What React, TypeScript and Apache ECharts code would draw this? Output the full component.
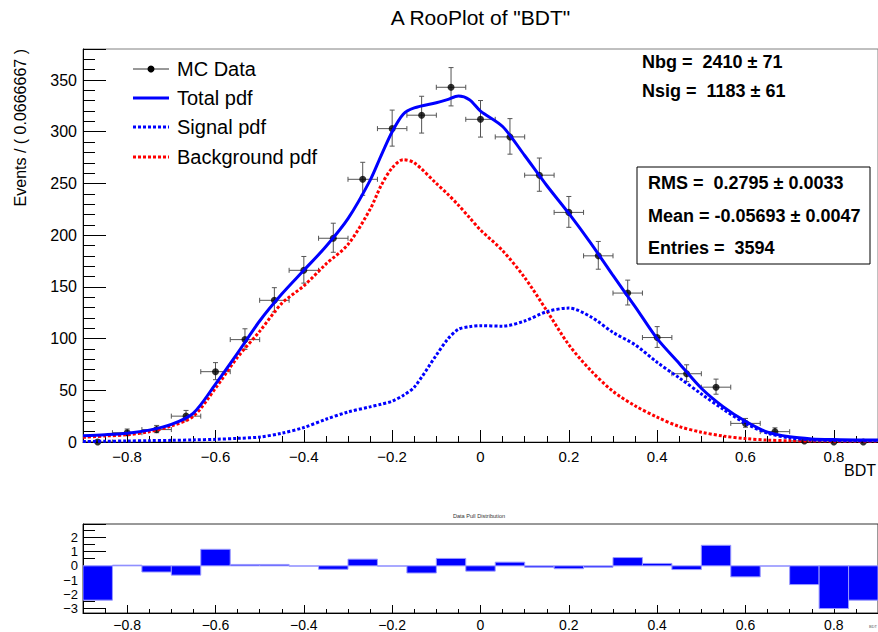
import React, { useEffect, useRef } from 'react';
import * as echarts from 'echarts';

// ---- data ----
const binWidth = 0.0666667;
const binCenters = [
  -0.8667, -0.8, -0.7333, -0.6667, -0.6, -0.5333, -0.4667, -0.4, -0.3333,
  -0.2667, -0.2, -0.1333, -0.0667, 0, 0.0667, 0.1333, 0.2, 0.2667,
  0.3333, 0.4, 0.4667, 0.5333, 0.6, 0.6667, 0.7333, 0.8, 0.8667,
];
const dataCounts = [
  0, 9, 12, 25, 68, 99, 137, 166, 197, 254, 303, 316, 343, 312, 295, 258, 222, 180,
  144, 101, 66, 53, 18, 10, 1, 0, 0,
];
const pullValues = [
  -2.4, 0.05, -0.43, -0.65, 1.16, 0.1, 0.1, -0.02, -0.24, 0.47, -0.02, -0.5, 0.52, -0.37,
  0.26, -0.1, -0.2, -0.1, 0.58, 0.17, -0.26, 1.44, -0.77, -0.02, -1.31, -2.99, -2.4,
];

const curveX = [
  -0.9, -0.85, -0.8, -0.75, -0.7, -0.65, -0.6, -0.55, -0.5, -0.45, -0.4, -0.35, -0.3, -0.25,
  -0.225, -0.2, -0.175, -0.15, -0.1, -0.075, -0.05, -0.025, 0, 0.05, 0.1, 0.15, 0.2, 0.25,
  0.3, 0.35, 0.4, 0.45, 0.5, 0.55, 0.6, 0.65, 0.7, 0.75, 0.8, 0.85, 0.9,
];
const totalPdf = [
  6, 7, 8.5, 11.5, 17, 28, 56, 86, 117, 143, 166, 189, 216, 253,
  277, 300, 317, 323, 328, 331, 334.5, 331, 320, 305, 277, 248, 221, 192,
  161, 131, 100, 76, 52, 34, 20, 9.5, 5, 3, 2.3, 2, 2,
];
const signalPdf = [
  0.5, 0.7, 1, 1.3, 1.6, 2, 2.6, 3.5, 4.8, 8.5, 14, 22, 29, 34,
  36.5, 39.5, 45, 53, 84, 99, 109, 111.5, 112.5, 112, 117, 126, 129.5, 121,
  106, 94, 77, 62, 46.5, 31.5, 18, 8.5, 4, 2, 1.4, 1.2, 1.1,
];
const backgroundPdf = [
  4.5, 5.8, 7, 10, 15.5, 25, 52, 82, 107, 134, 151, 172, 191, 225,
  248, 265, 273, 270, 250, 240, 229, 217, 205, 185, 159, 127, 94, 69,
  49, 35, 24, 15, 9.5, 5.7, 3.3, 1.8, 1.2, 1, 0.8, 0.7, 0.6,
];

const legendLabels = ['MC Data', 'Total pdf', 'Signal pdf', 'Background pdf'];
const fitLines = ['Nbg =  2410 \u00b1 71', 'Nsig =  1183 \u00b1 61'];
const statLines = ['RMS =  0.2795 \u00b1 0.0033', 'Mean = -0.05693 \u00b1 0.0047', 'Entries =  3594'];

const FONT = '"Liberation Sans", Arial, Helvetica, sans-serif';
const BLUE = '#0000ff';
const RED = '#ff0000';

const fmt = (v: number) => {
  const r = Math.round(v * 10) / 10;
  return String(r).replace('-', '\u2212');
};

export default function App() {
  const ref = useRef<HTMLDivElement>(null);
  useEffect(() => {
    if (!ref.current) return;
    const chart = echarts.init(ref.current, null, { renderer: 'svg' });

    const errData = binCenters.map((c, i) => {
      const n = dataCounts[i];
      const s = Math.sqrt(n + 0.25);
      return [c, n, Math.max(0, s - 0.5), s + 0.5];
    });

    const pts = (ys: number[]) => curveX.map((x, i) => [x, ys[i]]);

    const legendY = [69, 98, 127, 157];

    const option: any = {
      animation: false,
      backgroundColor: '#fff',
      textStyle: { fontFamily: FONT },
      grid: [
        { left: 83, top: 49, width: 795, height: 393, show: true, borderColor: '#808080', borderWidth: 1, containLabel: false },
        { left: 83, top: 524, width: 795, height: 96, show: true, borderColor: '#333', borderWidth: 1, containLabel: false },
      ],
      xAxis: [
        {
          type: 'value', gridIndex: 0, min: -0.9, max: 0.9, splitNumber: 9,
          axisLine: { show: true, onZero: false, lineStyle: { color: '#000', width: 1 } },
          axisTick: { show: true, inside: true, length: 12, lineStyle: { color: '#000' } },
          minorTick: { show: true, splitNumber: 4, length: 6, lineStyle: { color: '#000' } },
          splitLine: { show: false },
          axisLabel: { showMinLabel: false, showMaxLabel: false, fontSize: 15, color: '#000', margin: 7, fontFamily: FONT, formatter: fmt },
        },
        {
          type: 'value', gridIndex: 1, min: -0.9, max: 0.9, splitNumber: 9,
          axisLine: { show: true, onZero: false, lineStyle: { color: '#000', width: 1 } },
          axisTick: { show: true, inside: true, length: 8, lineStyle: { color: '#000' } },
          minorTick: { show: true, splitNumber: 4, length: 4, lineStyle: { color: '#000' } },
          splitLine: { show: false },
          axisLabel: { showMinLabel: false, showMaxLabel: false, fontSize: 14, color: '#000', margin: 5, fontFamily: FONT, formatter: fmt },
        },
      ],
      yAxis: [
        {
          type: 'value', gridIndex: 0, min: 0, max: 380, splitNumber: 8,
          axisLine: { show: true, onZero: false, lineStyle: { color: '#000', width: 1 } },
          axisTick: { show: true, inside: true, length: 23, lineStyle: { color: '#000' } },
          minorTick: { show: true, splitNumber: 5, length: 12, lineStyle: { color: '#000' } },
          splitLine: { show: false },
          axisLabel: { showMaxLabel: false, fontSize: 16, color: '#000', margin: 6, fontFamily: FONT },
        },
        {
          type: 'value', gridIndex: 1, min: -3.3, max: 2.93, splitNumber: 6,
          axisLine: { show: true, onZero: false, lineStyle: { color: '#000', width: 1 } },
          axisTick: { show: true, inside: true, length: 23, lineStyle: { color: '#000' } },
          minorTick: { show: true, splitNumber: 2, length: 12, lineStyle: { color: '#000' } },
          splitLine: { show: false },
          axisLabel: { showMinLabel: false, showMaxLabel: false, fontSize: 13, lineHeight: 13, color: '#000', margin: 5, fontFamily: FONT, formatter: fmt },
        },
      ],
      series: [
        {
          type: 'custom', name: 'errors', xAxisIndex: 0, yAxisIndex: 0, clip: true, z: 2,
          data: errData,
          renderItem: (params: any, api: any) => {
            const x = api.value(0), y = api.value(1), lo = api.value(2), hi = api.value(3);
            const half = binWidth / 2;
            const pL = api.coord([x - half, y]);
            const pR = api.coord([x + half, y]);
            const pT = api.coord([x, y + hi]);
            const pB = api.coord([x, y - lo]);
            const style = { stroke: '#555', lineWidth: 1, fill: null };
            const c = 2.5;
            return {
              type: 'group',
              children: [
                { type: 'line', shape: { x1: pL[0], y1: pL[1], x2: pR[0], y2: pR[1] }, style },
                { type: 'line', shape: { x1: pT[0], y1: pT[1], x2: pB[0], y2: pB[1] }, style },
                { type: 'line', shape: { x1: pL[0], y1: pL[1] - c, x2: pL[0], y2: pL[1] + c }, style },
                { type: 'line', shape: { x1: pR[0], y1: pR[1] - c, x2: pR[0], y2: pR[1] + c }, style },
                { type: 'line', shape: { x1: pT[0] - c, y1: pT[1], x2: pT[0] + c, y2: pT[1] }, style },
                { type: 'line', shape: { x1: pB[0] - c, y1: pB[1], x2: pB[0] + c, y2: pB[1] }, style },
              ],
            };
          },
        },
        {
          type: 'scatter', name: 'MC Data', xAxisIndex: 0, yAxisIndex: 0, z: 3,
          symbol: 'circle', symbolSize: 7, itemStyle: { color: '#000' },
          data: binCenters.map((c, i) => [c, dataCounts[i]]),
        },
        {
          type: 'line', name: 'Background pdf', xAxisIndex: 0, yAxisIndex: 0, z: 4,
          data: pts(backgroundPdf), showSymbol: false, symbol: 'none', smooth: 0.3,
          lineStyle: { color: RED, width: 3, type: [3, 2] },
        },
        {
          type: 'line', name: 'Signal pdf', xAxisIndex: 0, yAxisIndex: 0, z: 4,
          data: pts(signalPdf), showSymbol: false, symbol: 'none', smooth: 0.3,
          lineStyle: { color: BLUE, width: 3, type: [3, 2] },
        },
        {
          type: 'line', name: 'Total pdf', xAxisIndex: 0, yAxisIndex: 0, z: 5,
          data: pts(totalPdf), showSymbol: false, symbol: 'none', smooth: 0.3,
          lineStyle: { color: BLUE, width: 3 },
        },
        {
          type: 'custom', name: 'pull', xAxisIndex: 1, yAxisIndex: 1, clip: true,
          data: binCenters.map((c, i) => [c, pullValues[i]]),
          renderItem: (params: any, api: any) => {
            const c = api.value(0), v = api.value(1);
            const half = binWidth / 2;
            const p0 = api.coord([c - half, 0]);
            const p1 = api.coord([c + half, v]);
            const x = p0[0], w = p1[0] - p0[0];
            const y = Math.min(p0[1], p1[1]);
            const h = Math.abs(p1[1] - p0[1]);
            return {
              type: 'rect',
              shape: { x, y, width: w, height: h },
              style: { fill: BLUE, stroke: '#9a9aff', lineWidth: 1 },
            };
          },
        },
      ],
      graphic: [
        { type: 'text', x: 480.5, y: 17, style: { text: 'A RooPlot of "BDT"', font: `21px ${FONT}`, fill: '#000', align: 'center', verticalAlign: 'middle' } },
        { type: 'text', x: 20, y: 49, rotation: Math.PI / 2, style: { text: 'Events / ( 0.0666667 )', font: `16px ${FONT}`, fill: '#000', align: 'right', verticalAlign: 'middle' } },
        { type: 'text', x: 876, y: 470, style: { text: 'BDT', font: `16px ${FONT}`, fill: '#000', align: 'right', verticalAlign: 'middle' } },
        // legend
        { type: 'line', shape: { x1: 133, y1: legendY[0], x2: 169, y2: legendY[0] }, style: { stroke: '#333', lineWidth: 1 } },
        { type: 'circle', shape: { cx: 151, cy: legendY[0], r: 3.5 }, style: { fill: '#000' } },
        { type: 'line', shape: { x1: 133, y1: legendY[1], x2: 169, y2: legendY[1] }, style: { stroke: BLUE, lineWidth: 3 } },
        { type: 'line', shape: { x1: 133, y1: legendY[2], x2: 169, y2: legendY[2] }, style: { stroke: BLUE, lineWidth: 3, lineDash: [3, 2] } },
        { type: 'line', shape: { x1: 133, y1: legendY[3], x2: 169, y2: legendY[3] }, style: { stroke: RED, lineWidth: 3, lineDash: [3, 2] } },
        ...legendLabels.map((t, i) => ({
          type: 'text', x: 177, y: legendY[i], style: { text: t, font: `20px ${FONT}`, fill: '#000', align: 'left', verticalAlign: 'middle' },
        })),
        // fit params
        ...fitLines.map((t, i) => ({
          type: 'text', x: 642, y: 62 + i * 29, style: { text: t, font: `bold 18px ${FONT}`, fill: '#000', align: 'left', verticalAlign: 'middle' },
        })),
        // stats box
        { type: 'rect', shape: { x: 637, y: 167, width: 233, height: 97 }, style: { fill: '#fff', stroke: '#000', lineWidth: 1 } },
        ...statLines.map((t, i) => ({
          type: 'text', x: 648, y: 183 + i * 32.7, style: { text: t, font: `bold 18px ${FONT}`, fill: '#000', align: 'left', verticalAlign: 'middle' },
        })),
        // pull plot title & tiny axis title
        { type: 'text', x: 479, y: 516, style: { text: 'Data Pull Distribution', font: `5.6px ${FONT}`, fill: '#333', align: 'center', verticalAlign: 'middle' } },
        { type: 'text', x: 877, y: 626, style: { text: 'BDT', font: `4px ${FONT}`, fill: '#555', align: 'right', verticalAlign: 'middle' } },
      ],
    };

    chart.setOption(option);
    return () => chart.dispose();
  }, []);

  return <div ref={ref} style={{ position: 'absolute', left: 0, top: 0, width: 878, height: 632 }} />;
}
